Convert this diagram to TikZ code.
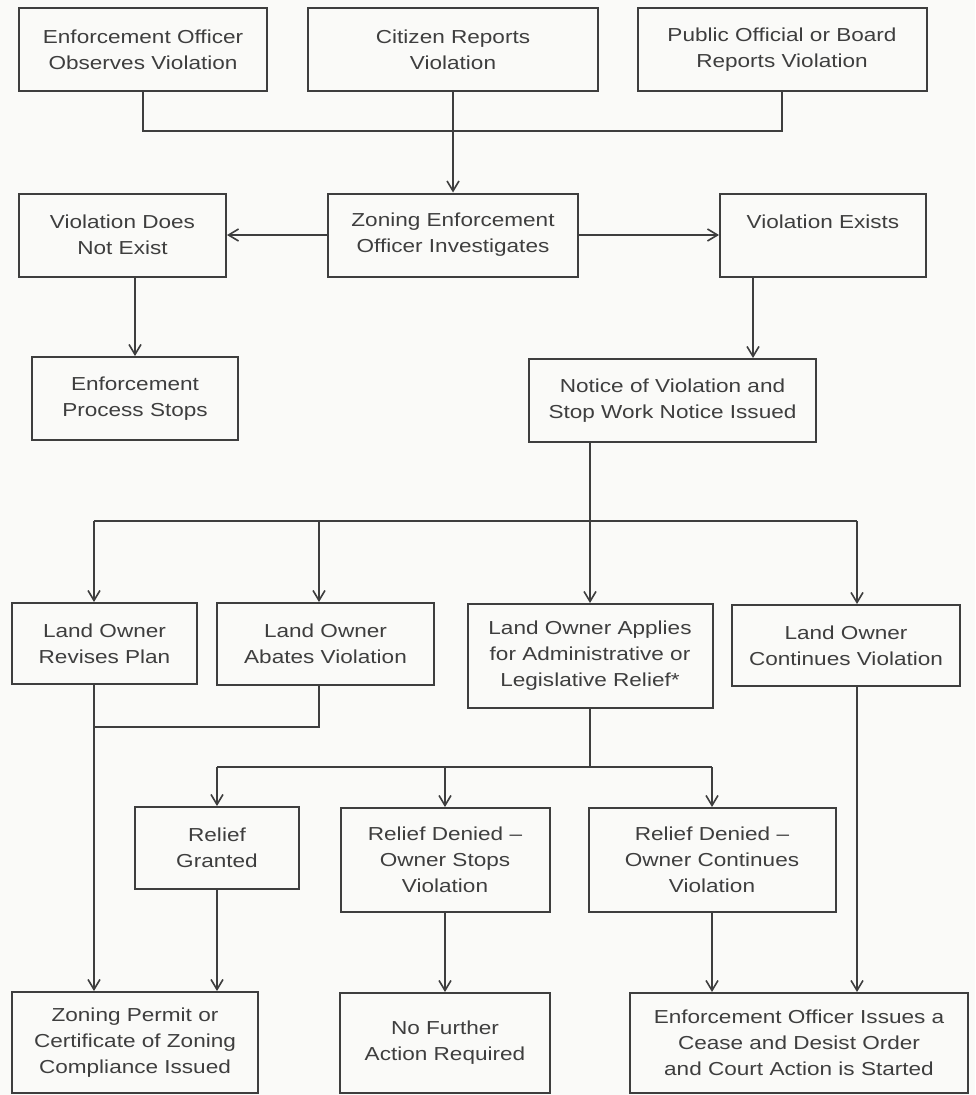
\documentclass[tikz,border=0pt]{standalone}
\usepackage{fontspec}
\setmainfont[FakeStretch=1.2]{Liberation Sans}
\usetikzlibrary{arrows.meta}
\definecolor{ink}{RGB}{62,62,62}
\definecolor{paper}{RGB}{250,250,248}

\begin{document}
\begin{tikzpicture}[x=1pt, y=-1pt,
    box/.style={draw=ink, line width=2pt, text=ink, align=center, inner sep=0pt,
        font=\fontsize{18.8}{26}\selectfont},
    link/.style={draw=ink, line width=1.8pt},
    arr/.style={link, -{Straight Barb[length=10pt, width=12pt, line width=1.6pt]}}]
    \fill[paper] (0, 0) rectangle (975, 1095);

    % reports
    \node[box, minimum width=248pt, minimum height=83pt] (obs) at (143, 49.5) {Enforcement Officer\\Observes Violation};
    \node[box, minimum width=290pt, minimum height=83pt] (cit) at (453, 49.5) {Citizen Reports\\Violation};
    \node[box, minimum width=289pt, minimum height=83pt] (pub) at (782, 49.5) {Public Official or Board\\Reports Violation};

    % investigation
    \node[box, minimum width=207pt, minimum height=83pt] (none) at (122.5, 235) {Violation Does\\Not Exist};
    \node[box, minimum width=250pt, minimum height=83pt] (inv) at (453, 235) {Zoning Enforcement\\Officer Investigates};
    \node[box, minimum width=206pt, minimum height=83pt] (exists) at (823, 235) {Violation Exists\\\mbox{}};
    \node[box, minimum width=206pt, minimum height=83pt] (eps) at (135, 398.5) {Enforcement\\Process Stops};
    \node[box, minimum width=287pt, minimum height=83pt] (nov) at (672.5, 400.5) {Notice of Violation and\\Stop Work Notice Issued};

    % owner responses
    \node[box, minimum width=185pt, minimum height=81pt] (rev) at (104.5, 643.5) {Land Owner\\Revises Plan};
    \node[box, minimum width=217pt, minimum height=82pt] (abate) at (325.5, 644) {Land Owner\\Abates Violation};
    \node[box, minimum width=245pt, minimum height=104pt] (apply) at (590, 656) {Land Owner Applies\\for Administrative or\\Legislative Relief*};
    \node[box, minimum width=228pt, minimum height=81pt] (cont) at (846, 645.5) {Land Owner\\Continues Violation};

    % relief
    \node[box, minimum width=164pt, minimum height=82pt] (grant) at (217, 848) {Relief\\Granted};
    \node[box, minimum width=209pt, minimum height=104pt] (stops) at (445, 860) {Relief Denied –\\Owner Stops\\Violation};
    \node[box, minimum width=247pt, minimum height=104pt] (denied) at (712, 860) {Relief Denied –\\Owner Continues\\Violation};

    % outcomes
    \node[box, minimum width=246pt, minimum height=101pt] (permit) at (135, 1042.5) {Zoning Permit or\\Certificate of Zoning\\Compliance Issued};
    \node[box, minimum width=210pt, minimum height=100pt] (nofurther) at (445, 1043) {No Further\\Action Required};
    \node[box, minimum width=338pt, minimum height=100pt] (cease) at (799, 1043) {Enforcement Officer Issues a\\Cease and Desist Order\\and Court Action is Started};

    \coordinate (j1) at (453, 131);
    \coordinate (j2) at (590, 521);
    \coordinate (j3) at (94, 727);
    \coordinate (j4) at (590, 767);
    \coordinate (c94) at (94, 0);
    \coordinate (c319) at (319, 0);
    \coordinate (c753) at (753, 0);
    \coordinate (c857) at (857, 0);

    \draw[link] (obs.south) -- (obs.south |- j1) -- (pub.south |- j1) -- (pub.south);
    \draw[arr] (cit) -- (inv);
    \draw[arr] (inv) -- (none);
    \draw[arr] (inv) -- (exists);
    \draw[arr] (none.south -| eps) -- (eps);
    \draw[arr] (exists.south -| c753) -- (nov.north -| c753);

    \draw[link] (nov.south -| j2) -- (j2);
    \draw[link] (c94 |- j2) -- (c857 |- j2);
    \draw[arr] (c94 |- j2) -- (rev.north -| c94);
    \draw[arr] (c319 |- j2) -- (abate.north -| c319);
    \draw[arr] (j2) -- (apply);
    \draw[arr] (c857 |- j2) -- (cont.north -| c857);

    \draw[link] (abate.south -| c319) -- (c319 |- j3) -- (j3);
    \draw[arr] (rev.south -| c94) -- (permit.north -| c94);
    \draw[link] (apply) -- (j4);
    \draw[link] (grant |- j4) -- (denied |- j4);
    \draw[arr] (grant |- j4) -- (grant);
    \draw[arr] (stops |- j4) -- (stops);
    \draw[arr] (denied |- j4) -- (denied);

    \draw[arr] (grant) -- (grant |- permit.north);
    \draw[arr] (stops) -- (nofurther);
    \draw[arr] (denied) -- (denied |- cease.north);
    \draw[arr] (cont.south -| c857) -- (cease.north -| c857);
\end{tikzpicture}
\end{document}
